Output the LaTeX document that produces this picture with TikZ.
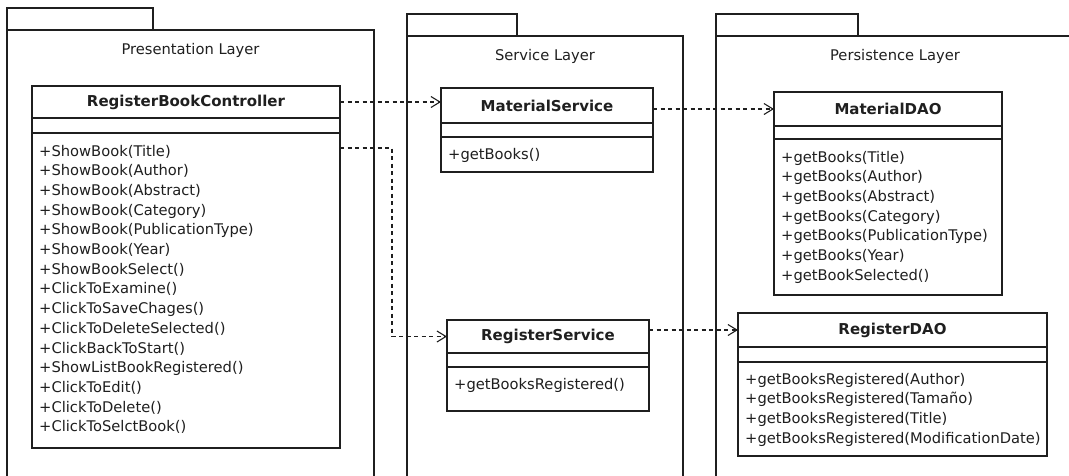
\documentclass[tikz,border=0pt]{standalone}
\usepackage{fontspec}
\setmainfont{DejaVu Sans}
\usetikzlibrary{arrows.meta,calc}
\begin{document}
\begin{tikzpicture}[x=1pt,y=-1pt,
  strk/.style={line width=1.5pt, draw=black!88},
  pkg/.style={strk, rectangle, anchor=north west, inner sep=0pt, outer sep=0pt},
  pkglabel/.style={font=\fontsize{14.7}{17}\selectfont, anchor=base, inner sep=0pt, text=black!88},
  classbox/.style={strk, fill=white, rectangle, anchor=north west, inner sep=0pt, outer sep=0pt},
  classname/.style={rectangle, anchor=north west, inner sep=0pt, outer sep=0pt, text=black!88, font=\fontsize{15}{18}\selectfont\bfseries},
  ops/.style={anchor=base west, inner sep=0pt, align=left, text=black!88, font=\fontsize{14.7}{19.7}\selectfont},
  dep/.style={line width=1.1pt, draw=black!88, dash pattern=on 4pt off 3.5pt, -{Straight Barb[length=9pt,width=11pt,line width=1.1pt]}},
]
\useasboundingbox (0,0) rectangle (1069,475);
\clip (0,0) rectangle (1069,475);

% packages
\node[pkg, minimum width=146pt, minimum height=22pt] (prestab) at (7,8) {};
\node[pkg, minimum width=367pt, minimum height=470pt] (pres) at (7,30) {};
\node[pkglabel] (preslabel) at ($(pres.north)+(0,24)$) {Presentation Layer};

\node[pkg, minimum width=110pt, minimum height=22pt] (servtab) at (407,14) {};
\node[pkg, minimum width=276pt, minimum height=460pt] (serv) at (407,36) {};
\node[pkglabel] (servlabel) at ($(serv.north)+(0,24)$) {Service Layer};

\node[pkg, minimum width=142pt, minimum height=22pt] (perstab) at (716,14) {};
\node[pkg, minimum width=358pt, minimum height=460pt] (pers) at (716,36) {};
\node[pkglabel] (perslabel) at ($(pers.north)+(0,24)$) {Persistence Layer};

% RegisterBookController
\node[classbox, minimum width=308pt, minimum height=362pt] (rbc) at (32,86) {};
\node[classname, minimum width=308pt, minimum height=32pt] (rbcname) at (32,86) {RegisterBookController};
\draw[strk] (rbcname.south west) -- (rbcname.south east);
\draw[strk] ($(rbcname.south west)+(0,15)$) -- ($(rbcname.south east)+(0,15)$);
\node[ops] (rbcops) at (39,431.8) {+ShowBook(Title)\\+ShowBook(Author)\\+ShowBook(Abstract)\\+ShowBook(Category)\\+ShowBook(PublicationType)\\+ShowBook(Year)\\+ShowBookSelect()\\+ClickToExamine()\\+ClickToSaveChages()\\+ClickToDeleteSelected()\\+ClickBackToStart()\\+ShowListBookRegistered()\\+ClickToEdit()\\+ClickToDelete()\\+ClickToSelctBook()};

% MaterialService
\node[classbox, minimum width=212pt, minimum height=84pt] (ms) at (441,88) {};
\node[classname, minimum width=212pt, minimum height=35pt] (msname) at (441,88) {MaterialService};
\draw[strk] (msname.south west) -- (msname.south east);
\draw[strk] ($(msname.south west)+(0,14)$) -- ($(msname.south east)+(0,14)$);
\node[ops] (msops) at (448,159) {+getBooks()};

% RegisterService
\node[classbox, minimum width=202pt, minimum height=91pt] (rs) at (447,320) {};
\node[classname, minimum width=202pt, minimum height=33pt] (rsname) at (447,320) {RegisterService};
\draw[strk] (rsname.south west) -- (rsname.south east);
\draw[strk] ($(rsname.south west)+(0,14)$) -- ($(rsname.south east)+(0,14)$);
\node[ops] (rsops) at (454,389) {+getBooksRegistered()};

% MaterialDAO
\node[classbox, minimum width=228pt, minimum height=203pt] (mdao) at (774,92) {};
\node[classname, minimum width=228pt, minimum height=34pt] (mdaoname) at (774,92) {MaterialDAO};
\draw[strk] (mdaoname.south west) -- (mdaoname.south east);
\draw[strk] ($(mdaoname.south west)+(0,13)$) -- ($(mdaoname.south east)+(0,13)$);
\node[ops] (mdaoops) at (781,280.2) {+getBooks(Title)\\+getBooks(Author)\\+getBooks(Abstract)\\+getBooks(Category)\\+getBooks(PublicationType)\\+getBooks(Year)\\+getBookSelected()};

% RegisterDAO
\node[classbox, minimum width=309pt, minimum height=143pt] (rdao) at (738,313) {};
\node[classname, minimum width=309pt, minimum height=34pt] (rdaoname) at (738,313) {RegisterDAO};
\draw[strk] (rdaoname.south west) -- (rdaoname.south east);
\draw[strk] ($(rdaoname.south west)+(0,15)$) -- ($(rdaoname.south east)+(0,15)$);
\node[ops] (rdaoops) at (745,443.1) {+getBooksRegistered(Author)\\+getBooksRegistered(Tamaño)\\+getBooksRegistered(Title)\\+getBooksRegistered(ModificationDate)};

% dependencies
\draw[dep] (rbcname.east) -- (rbcname.east -| msname.west);
\coordinate (bend) at (392,148);
\draw[dep] (bend -| rbc.east) -- (bend) |- (rsname.west);
\draw[dep] (mdaoname.west -| msname.east) -- (mdaoname.west);
\draw[dep] (rdaoname.west -| rsname.east) -- (rdaoname.west);
\end{tikzpicture}
\end{document}
